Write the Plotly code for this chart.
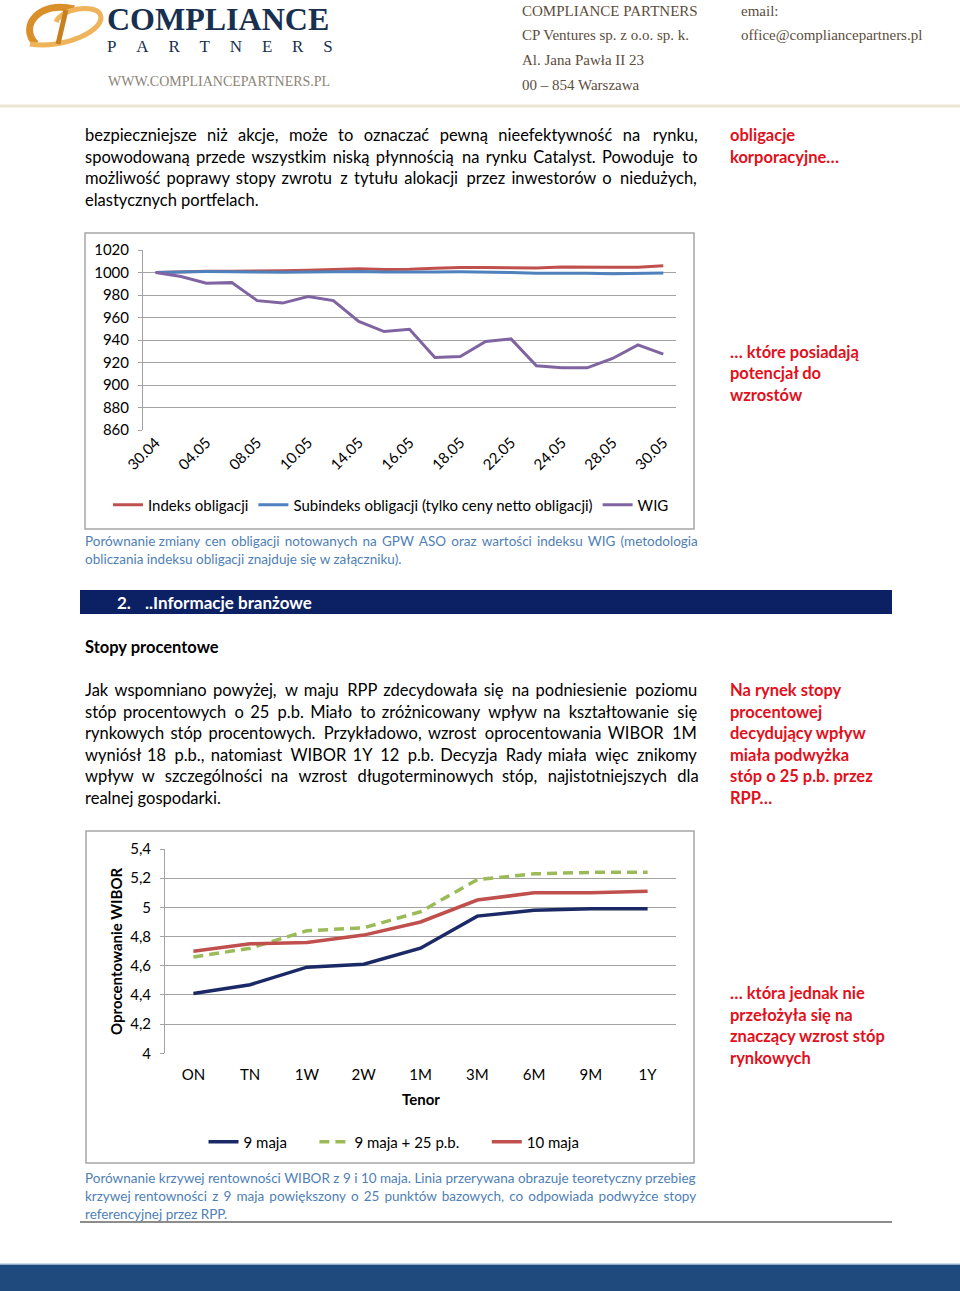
import plotly.graph_objects as go

W, H = 960, 1291

# ---------------- data ----------------
dates = ["30.04", "02.05", "04.05", "07.05", "08.05", "09.05", "10.05", "11.05",
         "14.05", "15.05", "16.05", "17.05", "18.05", "21.05", "22.05", "23.05",
         "24.05", "25.05", "28.05", "29.05", "30.05"]
indeks_obligacji = [1000, 1000.8, 1001.2, 1001.2, 1001.2, 1001.5, 1002.0, 1002.6,
                    1003.3, 1002.6, 1002.8, 1003.8, 1004.5, 1004.4, 1004.0, 1003.9,
                    1004.8, 1005.0, 1004.6, 1004.7, 1006.0]
subindeks_obligacji = [1000, 1000.5, 1000.8, 1000.7, 1000.2, 1000.3, 1000.5, 1000.8,
                       1001.0, 1000.4, 1000.1, 1000.4, 1000.6, 1000.5, 1000.0, 999.3,
                       999.5, 999.4, 998.9, 999.0, 999.6]
wig = [1000, 996.4, 990.5, 991.0, 975.0, 972.8, 978.7, 975.0, 956.5, 947.5, 949.6,
       924.5, 925.4, 938.7, 941.0, 917.0, 915.3, 915.3, 923.6, 935.7, 927.5]
ticks1 = [860, 880, 900, 920, 940, 960, 980, 1000, 1020]
ticks1_text = ["860", "880", "900", "920", "940", "960", "980", "1000", "1020"]

tenors = ["ON", "TN", "1W", "2W", "1M", "3M", "6M", "9M", "1Y"]
maja_9 = [4.41, 4.47, 4.59, 4.61, 4.72, 4.94, 4.98, 4.99, 4.99]
maja_9_plus25 = [4.66, 4.72, 4.84, 4.86, 4.97, 5.19, 5.23, 5.24, 5.24]
maja_10 = [4.70, 4.75, 4.76, 4.81, 4.90, 5.05, 5.10, 5.10, 5.11]
ticks2 = [4.0, 4.2, 4.4, 4.6, 4.8, 5.0, 5.2, 5.4]
ticks2_text = ["4", "4,2", "4,4", "4,6", "4,8", "5", "5,2", "5,4"]


def X(px):
    return px / W


def Y(py):
    return 1 - py / H


def P(x, y):
    return f"{X(x):.5f},{Y(y):.5f}"


BODY = "Lato"
SERIF = "Liberation Serif"
GRID = "#a3a3a3"
SP = "\u2003"
THIN = "\u2009"


def justify(line, n_extra):
    """spread n_extra thin spaces evenly over the gaps between words"""
    words = line.split(" ")
    gaps = len(words) - 1
    if gaps <= 0 or n_extra <= 0:
        return line
    out = words[0]
    for i in range(gaps):
        k = (n_extra * (i + 1)) // gaps - (n_extra * i) // gaps
        out += " " + THIN * k + words[i + 1]
    return out


fig = go.Figure()

# chart 1
fig.add_trace(go.Scatter(x=dates, y=indeks_obligacji, mode="lines", name="Indeks obligacji",
                         line=dict(color="#c0504d", width=3), xaxis="x", yaxis="y", legend="legend"))
fig.add_trace(go.Scatter(x=dates, y=subindeks_obligacji, mode="lines",
                         name="Subindeks obligacji (tylko ceny netto obligacji)",
                         line=dict(color="#4f81bd", width=3), xaxis="x", yaxis="y", legend="legend"))
fig.add_trace(go.Scatter(x=dates, y=wig, mode="lines", name="WIG",
                         line=dict(color="#8064a2", width=3), xaxis="x", yaxis="y", legend="legend"))

# chart 2
fig.add_trace(go.Scatter(x=tenors, y=maja_9, mode="lines", name="9 maja" + SP + SP,
                         line=dict(color="#1b2a66", width=3.5), xaxis="x2", yaxis="y2", legend="legend2"))
fig.add_trace(go.Scatter(x=tenors, y=maja_9_plus25, mode="lines", name="9 maja + 25 p.b." + SP + SP,
                         line=dict(color="#9bbb59", width=3.5, dash="10px,6px"),
                         xaxis="x2", yaxis="y2", legend="legend2"))
fig.add_trace(go.Scatter(x=tenors, y=maja_10, mode="lines", name="10 maja",
                         line=dict(color="#c0504d", width=3.5), xaxis="x2", yaxis="y2", legend="legend2"))

fig.update_layout(
    width=W, height=H,
    margin=dict(l=0, r=0, t=0, b=0, pad=0, autoexpand=False),
    paper_bgcolor="white", plot_bgcolor="white",
    showlegend=True,
    xaxis=dict(domain=[X(143), X(676)], type="category", range=[-0.5, 20.5],
               tickmode="array", tickvals=dates[::2], ticktext=dates[::2],
               tickangle=-45, showgrid=False, showline=False, ticks="", automargin=False,
               tickfont=dict(family=BODY, size=15, color="#000"), anchor="y", fixedrange=True),
    yaxis=dict(domain=[Y(430), Y(250)], range=[860, 1020], tickmode="array",
               tickvals=ticks1, ticktext=ticks1_text, showgrid=True, gridcolor=GRID, gridwidth=1,
               showline=True, linecolor=GRID, linewidth=1, ticks="outside", ticklen=4, tickcolor=GRID,
               zeroline=False, tickfont=dict(family=BODY, size=15, color="#000"), anchor="x",
               ticklabelstandoff=6, automargin=False, fixedrange=True),
    xaxis2=dict(domain=[X(165), X(676)], type="category", range=[-0.5, 8.5],
                showgrid=False, showline=False, ticks="", automargin=False,
                tickfont=dict(family=BODY, size=15, color="#000"), anchor="y2",
                ticklabelstandoff=11, fixedrange=True),
    yaxis2=dict(domain=[Y(1053.3), Y(849)], range=[4.0, 5.4], tickmode="array",
                tickvals=ticks2, ticktext=ticks2_text, showgrid=True, gridcolor=GRID, gridwidth=1,
                showline=True, linecolor=GRID, linewidth=1, ticks="outside", ticklen=4, tickcolor=GRID,
                zeroline=False, tickfont=dict(family=BODY, size=15, color="#000"), anchor="x2",
                ticklabelstandoff=6, automargin=False, fixedrange=True),
    legend=dict(orientation="h", x=X(391), xanchor="center", y=Y(505), yanchor="middle",
                font=dict(family=BODY, size=15, color="#000"), bgcolor="rgba(0,0,0,0)",
                itemwidth=30, tracegroupgap=0),
    legend2=dict(orientation="h", x=X(394), xanchor="center", y=Y(1142), yanchor="middle",
                 font=dict(family=BODY, size=15, color="#000"), bgcolor="rgba(0,0,0,0)",
                 itemwidth=30, tracegroupgap=0),
)

shapes = []
annotations = []


def txt(x, y, s, size=15, color="#000", family=BODY, bold=False, anchor="left", angle=0, align="left"):
    if bold:
        s = f"<b>{s}</b>"
    annotations.append(dict(x=X(x), y=Y(y), xref="paper", yref="paper", text=s, showarrow=False,
                            xanchor=anchor, yanchor="middle", textangle=angle, align=align,
                            font=dict(family=family, size=size, color=color)))


def rect(x0, y0, x1, y1, fill=None, line=None, lw=1):
    shapes.append(dict(type="rect", xref="paper", yref="paper", x0=X(x0), x1=X(x1), y0=Y(y1), y1=Y(y0),
                       fillcolor=fill if fill else "rgba(0,0,0,0)",
                       line=dict(color=line if line else "rgba(0,0,0,0)", width=lw if line else 0),
                       layer="below"))


def hline(x0, x1, y, color, w):
    shapes.append(dict(type="line", xref="paper", yref="paper", x0=X(x0), x1=X(x1), y0=Y(y), y1=Y(y),
                       line=dict(color=color, width=w)))


# ---------- header ----------
hline(0, 960, 106, "#ede6d3", 3)
# CP swoosh logo
shapes.append(dict(type="path", xref="paper", yref="paper",
                   path=f"M {P(74,9)} C {P(40,0)} {P(18,26)} {P(36,44)}",
                   line=dict(color="#d98f2a", width=7)))
shapes.append(dict(type="path", xref="paper", yref="paper",
                   path=f"M {P(30,44)} C {P(62,50)} {P(108,30)} {P(100,14)} C {P(94,4)} {P(62,8)} {P(56,22)}",
                   line=dict(color="#efb45a", width=5)))
shapes.append(dict(type="path", xref="paper", yref="paper",
                   path=f"M {P(66,10)} L {P(58,44)}",
                   line=dict(color="#c7801f", width=5)))
logo = ("<span style='font-size:32px'><b>COMPLIANCE</b></span><br>"
        + "\u2003\u2006".join("PARTNERS"))
txt(105, 29, logo, size=17, color="#17304f", family=SERIF)
txt(106, 81, "WWW.COMPLIANCEPARTNERS.PL", size=14, color="#8c8477", family=SERIF)

hdr = "#5c4d3d"
txt(520, 11, "COMPLIANCE PARTNERS", size=15, color=hdr, family=SERIF)
txt(520, 35, "CP Ventures sp. z o.o. sp. k.", size=15, color=hdr, family=SERIF)
txt(520, 60, "Al. Jana Pawła II 23", size=15, color=hdr, family=SERIF)
txt(520, 85, "00 – 854 Warszawa", size=15, color=hdr, family=SERIF)
txt(739, 11, "email:", size=15, color=hdr, family=SERIF)
txt(739, 35, "office@compliancepartners.pl", size=15, color=hdr, family=SERIF)

FS = 16.5
# ---------- paragraph 1 ----------
para1 = ["bezpieczniejsze niż akcje, może to oznaczać pewną nieefektywność na rynku,",
         "spowodowaną przede wszystkim niską płynnością na rynku Catalyst. Powoduje to",
         "możliwość poprawy stopy zwrotu z tytułu alokacji przez inwestorów o niedużych,",
         "elastycznych portfelach."]
extra1 = [28, 11, 13, 0]
for i, line in enumerate(para1):
    txt(83, 135 + i * 21.7, justify(line, extra1[i]), size=FS)
RED = "#e2101c"
txt(728, 135, "obligacje", size=FS, color=RED, bold=True)
txt(728, 157, "korporacyjne…", size=FS, color=RED, bold=True)

# chart 1 box
rect(85, 233, 694, 529, line="#a6a6a6", lw=1.5)
txt(728, 352, "… które posiadają", size=FS, color=RED, bold=True)
txt(728, 373, "potencjał do", size=FS, color=RED, bold=True)
txt(728, 395, "wzrostów", size=FS, color=RED, bold=True)

CAP = "#4f7fb5"
txt(83, 541, justify("Porównanie zmiany cen obligacji notowanych na GPW ASO oraz wartości indeksu WIG (metodologia", 11),
    size=13.5, color=CAP)
txt(83, 559, "obliczania indeksu obligacji znajduje się w załączniku).", size=13.5, color=CAP)

# section bar
rect(80, 590, 892, 614, fill="#0b2163")
txt(115, 602, "2.", size=17, color="white", bold=True)
txt(143, 602, "..Informacje branżowe", size=17, color="white", bold=True)

txt(83, 647, "Stopy procentowe", size=16.5, bold=True)

para2 = ["Jak wspomniano powyżej, w maju RPP zdecydowała się na podniesienie poziomu",
         "stóp procentowych o 25 p.b. Miało to zróżnicowany wpływ na kształtowanie się",
         "rynkowych stóp procentowych. Przykładowo, wzrost oprocentowania WIBOR 1M",
         "wyniósł 18 p.b., natomiast WIBOR 1Y 12 p.b. Decyzja Rady miała więc znikomy",
         "wpływ w szczególności na wzrost długoterminowych stóp, najistotniejszych dla",
         "realnej gospodarki."]
extra2 = [14, 17, 10, 19, 21, 0]
for i, line in enumerate(para2):
    txt(83, 690 + i * 21.6, justify(line, extra2[i]), size=FS)
notes2 = ["Na rynek stopy", "procentowej", "decydujący wpływ", "miała podwyżka",
          "stóp o 25 p.b. przez", "RPP…"]
for i, line in enumerate(notes2):
    txt(728, 690 + i * 21.6, line, size=FS, color=RED, bold=True)

# chart 2 box
rect(86, 831, 694, 1163, line="#a6a6a6", lw=1.5)
txt(421, 1099, "Tenor", size=15, bold=True, anchor="center")
txt(116, 951, "Oprocentowanie WIBOR", size=15, bold=True, anchor="center", angle=-90)

notes3 = ["… która jednak nie", "przełożyła się na", "znaczący wzrost stóp", "rynkowych"]
for i, line in enumerate(notes3):
    txt(728, 993 + i * 21.7, line, size=FS, color=RED, bold=True)

cap2 = ["Porównanie krzywej rentowności WIBOR z 9 i 10 maja. Linia przerywana obrazuje teoretyczny przebieg",
        "krzywej rentowności z 9 maja powiększony o 25 punktów bazowych, co odpowiada podwyżce stopy",
        "referencyjnej przez RPP."]
extra_c2 = [0, 12, 0]
for i, line in enumerate(cap2):
    txt(83, 1178 + i * 18, justify(line, extra_c2[i]), size=13.5, color=CAP)
hline(80, 892, 1222, "#8c8c8c", 2)

# footer band
rect(0, 1264, 960, 1291, fill="#1f4a7e")
hline(0, 960, 1264, "#b9cde4", 1.5)

fig.update_layout(shapes=shapes, annotations=annotations)
fig.write_html("out.html", config={"displayModeBar": False},
               post_script="document.body.style.margin='0';document.body.style.overflow='hidden';")
